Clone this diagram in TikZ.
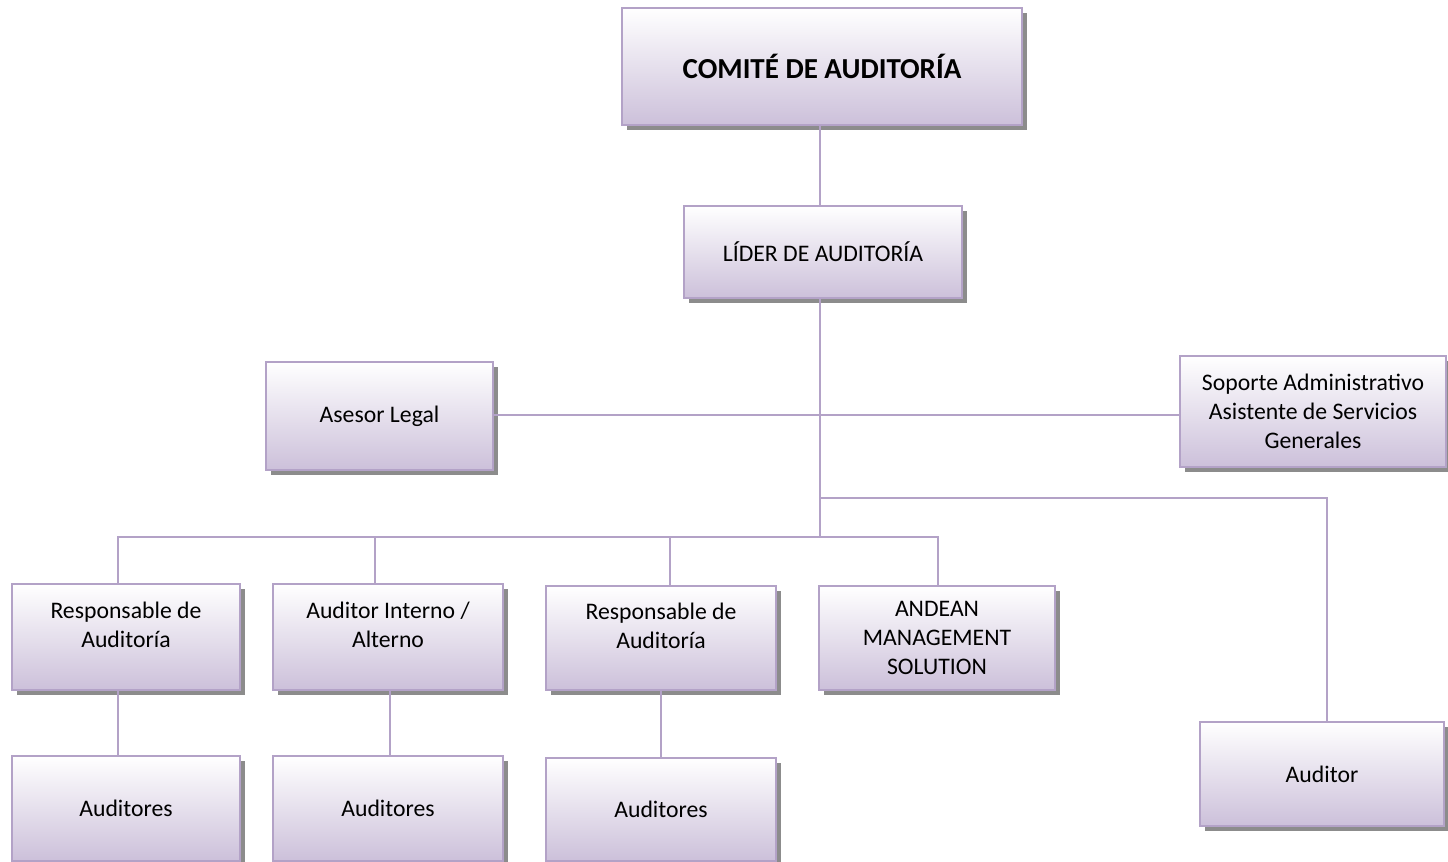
\documentclass[tikz,border=0pt]{standalone}
\usepackage{fontspec}
\setmainfont{Carlito}
\usetikzlibrary{positioning, shadows}
\definecolor{boxfill}{HTML}{CCC0DA}
\definecolor{boxline}{HTML}{B3A2C7}
\tikzset{
  orgbox/.style={rectangle, draw=boxline, line width=1.2pt, top color=white, bottom color=boxfill,
    align=center, text centered, font=\fontsize{13.5}{16.5}\selectfont,
    drop shadow={shadow xshift=0.09cm, shadow yshift=-0.09cm, fill=black!45, opacity=1}},
  link/.style={draw=boxline, line width=1.2pt}
}

\begin{document}
\begin{tikzpicture}

    \useasboundingbox (0,0) rectangle (28.96,-17.22);

    % Direccion
    \node[orgbox, minimum width=8cm, minimum height=2.34cm, font=\fontsize{16.5}{20}\selectfont\bfseries] (comite) at (16.44,-1.33) {COMITÉ DE AUDITORÍA};
    \node[orgbox, minimum width=5.56cm, minimum height=1.84cm] (lider) at (16.46,-5.04) {LÍDER DE AUDITORÍA};

    % Staff
    \node[orgbox, minimum width=4.54cm, minimum height=2.16cm] (asesor) at (7.59,-8.32) {Asesor Legal};
    \node[orgbox, minimum width=5.32cm, minimum height=2.22cm] (soporte) at (26.26,-8.23) {Soporte Administrativo\\Asistente de Servicios\\Generales};

    % Responsables
    \node[orgbox, minimum width=4.56cm, minimum height=2.12cm] (resp1) at (2.52,-12.74) {Responsable de\\Auditoría\\[-0.1cm]};
    \node[orgbox, minimum width=4.6cm, minimum height=2.12cm] (interno) at (7.76,-12.74) {Auditor Interno /\\Alterno\\[-0.1cm]};
    \node[orgbox, minimum width=4.6cm, minimum height=2.08cm] (resp2) at (13.22,-12.76) {Responsable de\\Auditoría\\[-0.1cm]};
    \node[orgbox, minimum width=4.72cm, minimum height=2.08cm] (andean) at (18.74,-12.76) {ANDEAN\\MANAGEMENT\\SOLUTION};
    \node[orgbox, minimum width=4.88cm, minimum height=2.08cm] (auditor) at (26.44,-15.48) {Auditor};

    % Equipos
    \node[orgbox, minimum width=4.56cm, minimum height=2.1cm] (aud1) at (2.52,-16.17) {Auditores};
    \node[orgbox, minimum width=4.6cm, minimum height=2.1cm] (aud2) at (7.76,-16.17) {Auditores};
    \node[orgbox, minimum width=4.6cm, minimum height=2.06cm] (aud3) at (13.22,-16.19) {Auditores};

    % Conexiones
    \coordinate (hub) at (16.40,-9.96);
    \coordinate (bus) at (16.40,-10.74);
    \draw[link] (comite.south -| hub) -- (lider.north -| hub);
    \draw[link] (lider.south -| hub) -- (bus);
    \draw[link] (asesor.east |- 0,-8.30) -- (soporte.west |- 0,-8.30);
    \draw[link] (hub) -| ([xshift=0.1cm]auditor.north);
    \foreach \n/\dx in {resp1/-0.16, interno/-0.26, resp2/0.18, andean/0.02} {
        \draw[link] (bus) -| ([xshift=\dx cm]\n.north);
    }
    \draw[link] ([xshift=-0.16cm]resp1.south) -- ([xshift=-0.16cm]aud1.north);
    \draw[link] ([xshift=0.04cm]interno.south) -- ([xshift=0.04cm]aud2.north);
    \draw[link] (resp2.south) -- (aud3.north);

\end{tikzpicture}
\end{document}
